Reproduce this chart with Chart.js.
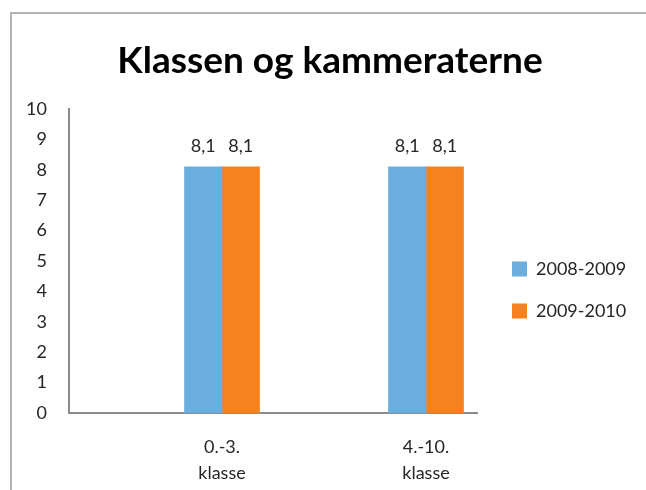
<!DOCTYPE html>
<html>
<head>
<meta charset="utf-8">
<script src="https://cdn.jsdelivr.net/npm/chart.js@4.4.1/dist/chart.umd.min.js"></script>
<style>
html,body{margin:0;padding:0;background:#fff;}
#c{display:block;}
</style>
</head>
<body>
<canvas id="c" width="646" height="490"></canvas>
<script>
// ---- data ----
const chartTitle = 'Klassen og kammeraterne';
const categories = [['0.-3.', 'klasse'], ['4.-10.', 'klasse']];
const seriesNames = ['2008-2009', '2009-2010'];
const values2008 = [8.1, 8.1];
const values2009 = [8.1, 8.1];
const yMin = 0, yMax = 10, yStep = 1;

const colors = ['#6AADDF', '#F5821F'];
const FONT = 'Lato, "Open Sans", "DejaVu Sans", sans-serif';
const TEXT = '#262626';
const LEGEND_FONT = 18, LEGEND_BOX = 15, LEGEND_PAD = 24;

function toPoints(vals) { return vals.map((v, i) => ({x: i, y: v})); }

// measure legend text so the legend lands where the reference has it
const mctx = document.getElementById('c').getContext('2d');
mctx.font = LEGEND_FONT + 'px ' + FONT;
const legendTextW = Math.max(...seriesNames.map(s => mctx.measureText(s).width));
const legendW = LEGEND_PAD + LEGEND_BOX + LEGEND_FONT / 2 + legendTextW + 10;
const padRight = Math.max(0, 646 - 488 - legendW);
const padLeft = 14 + padRight;

const framePlugin = {
  id: 'frame',
  beforeDraw(chart) {
    const ctx = chart.ctx;
    ctx.save();
    ctx.strokeStyle = '#b4b4b4';
    ctx.lineWidth = 2;
    ctx.beginPath();
    ctx.moveTo(11, 490);
    ctx.lineTo(11, 13);
    ctx.lineTo(646, 13);
    ctx.stroke();
    ctx.restore();
  }
};

const valueLabels = {
  id: 'valueLabels',
  afterDatasetsDraw(chart) {
    const ctx = chart.ctx;
    ctx.save();
    ctx.font = '18px ' + FONT;
    ctx.fillStyle = TEXT;
    ctx.textAlign = 'center';
    ctx.textBaseline = 'alphabetic';
    chart.data.datasets.forEach((ds, di) => {
      const meta = chart.getDatasetMeta(di);
      meta.data.forEach((el, i) => {
        const v = ds.data[i].y;
        ctx.fillText(v.toFixed(1).replace('.', ','), el.x, el.y - 15);
      });
    });
    ctx.restore();
  }
};

new Chart(document.getElementById('c'), {
  type: 'bar',
  data: {
    datasets: [
      {label: seriesNames[0], data: toPoints(values2008), backgroundColor: colors[0], borderWidth: 0},
      {label: seriesNames[1], data: toPoints(values2009), backgroundColor: colors[1], borderWidth: 0}
    ]
  },
  options: {
    responsive: false,
    animation: false,
    barThickness: 37.5,
    layout: {padding: {left: padLeft, top: 0, bottom: 0, right: padRight}},
    plugins: {
      title: {
        display: true,
        text: chartTitle,
        color: '#000',
        font: {family: FONT, size: 37, weight: 'bold', lineHeight: 1.2},
        padding: {top: 38.6, bottom: 26}
      },
      legend: {
        display: true,
        position: 'right',
        align: 'start',
        maxWidth: 400,
        title: {display: true, text: ' ', font: {size: 12, lineHeight: 1.2}, padding: {top: 221.6, bottom: 0}},
        labels: {
          boxWidth: LEGEND_BOX, boxHeight: LEGEND_BOX, padding: LEGEND_PAD, color: TEXT,
          font: {family: FONT, size: LEGEND_FONT}
        }
      },
      tooltip: {enabled: false}
    },
    scales: {
      x: {
        type: 'linear',
        min: -0.75,
        max: 1.25,
        offset: false,
        grid: {display: false, drawTicks: false, offset: false},
        border: {display: true, color: '#8c8c8c', width: 2},
        afterBuildTicks(scale) { scale.ticks = categories.map((c, i) => ({value: i})); },
        afterFit(scale) { scale.height = 77; },
        ticks: {
          padding: 21,
          color: TEXT,
          font: {family: FONT, size: 18, lineHeight: 1.45},
          maxRotation: 0,
          autoSkip: false,
          callback: (v) => categories[v]
        }
      },
      y: {
        min: yMin, max: yMax,
        grid: {display: false, drawTicks: false},
        border: {display: true, color: '#8c8c8c', width: 2},
        afterFit(scale) { scale.width = 69 - padLeft; },
        ticks: {
          stepSize: yStep,
          padding: 22,
          color: TEXT,
          font: {family: FONT, size: 18}
        }
      },
      spacer: {
        type: 'linear',
        position: 'right',
        display: true,
        grid: {display: false, drawTicks: false},
        border: {display: false},
        ticks: {display: false},
        afterFit(scale) { scale.width = 11; }
      }
    }
  },
  plugins: [framePlugin, valueLabels]
});
</script>
</body>
</html>
